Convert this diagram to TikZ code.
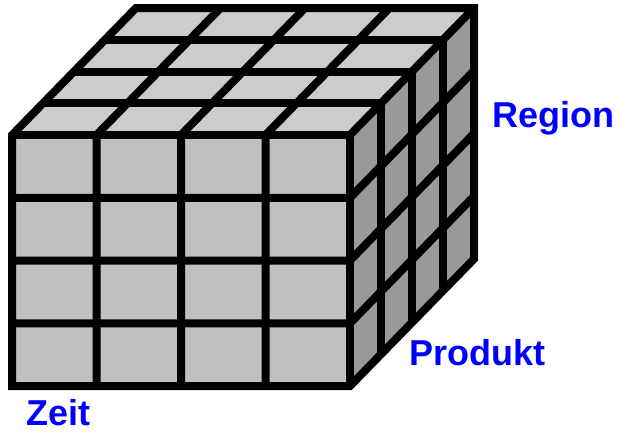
\documentclass[tikz,border=0pt]{standalone}
\usepackage{fontspec}
\setmainfont{Liberation Sans}
\usepackage{xcolor}
\usetikzlibrary{positioning}

\definecolor{frontgray}{RGB}{192,192,192}
\definecolor{topgray}{RGB}{204,204,204}
\definecolor{sidegray}{RGB}{153,153,153}

\begin{document}
\begin{tikzpicture}[x=1pt, y=-1pt,
    gridline/.style={line width=8pt, black},
    axisname/.style={text=blue, font=\bfseries\fontsize{36}{40}\selectfont, inner sep=0pt, anchor=base west}]
    \useasboundingbox (0,0) rectangle (621,432);

    \coordinate (ftl) at (12,135);
    \coordinate (fbl) at (12,386);
    \coordinate (ftr) at (350,135);
    \coordinate (fbr) at (350,386);
    \coordinate (btl) at (136,8);
    \coordinate (btr) at (474,8);
    \coordinate (bbr) at (474,259);

    \fill[frontgray] (ftl) rectangle (fbr);
    \fill[topgray] (ftl) -- (ftr) -- (btr) -- (btl) -- cycle;
    \fill[sidegray] (ftr) -- (fbr) -- (bbr) -- (btr) -- cycle;

    \foreach \i in {1,...,3} {
        \draw[gridline] (12+84.5*\i,386) -- ++(0,-251) -- ++(124,-127);
        \draw[gridline] (12,135+62.75*\i) -- ++(338,0) -- ++(124,-127);
        \draw[gridline] (12+31*\i,135-31.75*\i) -- ++(338,0) -- ++(0,251);
    }
    \draw[gridline] (ftl) -- (ftr) -- (fbr);
    \draw[gridline] (ftr) -- (btr);
    \draw[gridline] (ftl) -- (fbl) -- (fbr) -- (bbr) -- (btr) -- (btl) -- cycle;

    \node[axisname] (zeit) at (26,425) {Zeit};
    \node[axisname] (produkt) at (409,365) {Produkt};
    \node[axisname] (region) at (492,127) {Region};
\end{tikzpicture}
\end{document}
